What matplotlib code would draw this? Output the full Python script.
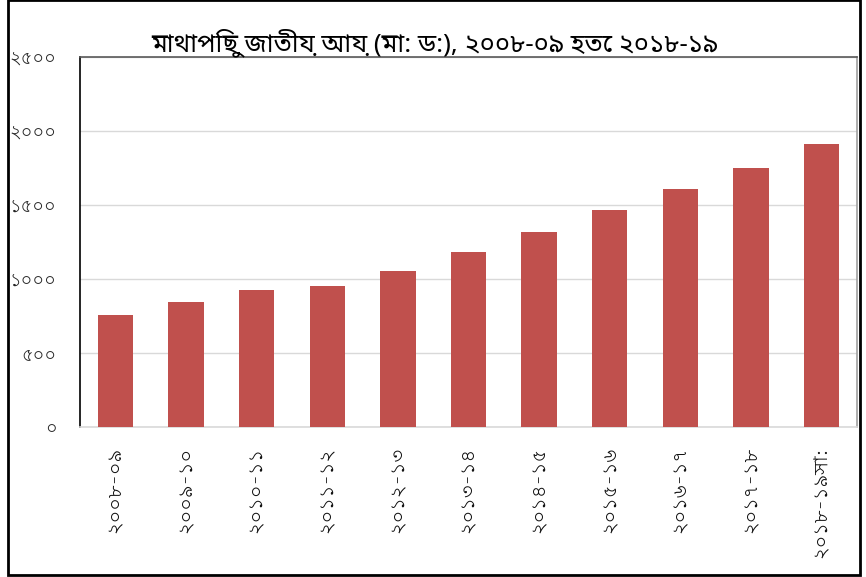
import matplotlib
matplotlib.use('Agg')
import matplotlib.pyplot as plt
from matplotlib.patches import Rectangle

years = ['২০০৮-০৯', '২০০৯-১০', '২০১০-১১', '২০১১-১২', '২০১২-১৩', '২০১৩-১৪',
         '২০১৪-১৫', '২০১৫-১৬', '২০১৬-১৭', '২০১৭-১৮', '২০১৮-১৯সা:']
income = [759, 843, 928, 955, 1054, 1184, 1316, 1465, 1610, 1751, 1909]
yticks = [0, 500, 1000, 1500, 2000, 2500]
ytick_labels = ['০', '৫০০', '১০০০', '১৫০০', '২০০০', '২৫০০']
title = 'মাথাপিছু জাতীয় আয় (মা: ড:), ২০০৮-০৯ হতে ২০১৮-১৯'

fig = plt.figure(figsize=(8.66, 5.77), dpi=100)
ax = fig.add_axes([80/866, 1-427/577, 777/866, 370/577])

ax.bar(range(len(years)), income, width=0.5, color='#C0504D', zorder=3)
ax.set_xlim(-0.5, len(years) - 0.5)
ax.set_ylim(0, 2500)
ax.set_yticks(yticks)
ax.set_yticklabels(ytick_labels, family=['Lohit Bengali', 'DejaVu Sans'],
                   fontsize=13, style='italic', color='#262626')
ax.set_xticks(range(len(years)))
ax.set_xticklabels(years, rotation=90, family=['Lohit Bengali', 'DejaVu Sans'],
                   fontsize=14, va='top', color='#111111')
ax.tick_params(axis='y', length=0, pad=17)
ax.tick_params(axis='x', length=0, pad=14)
ax.grid(axis='y', color='#d9d9d9', lw=1, zorder=0)

ax.spines['left'].set_color('black')
ax.spines['top'].set_color('#595959')
ax.spines['right'].set_color('#a0a0a0')
ax.spines['bottom'].set_color('#d9d9d9')
for s in ax.spines.values():
    s.set_linewidth(1.2)

fig.text(0.502, 0.926, title, ha='center', va='center', fontsize=18.5, fontweight='bold',
         family=['Noto Sans Bengali', 'DejaVu Sans'])

fig.patches.append(Rectangle((8/866, 2/577), 852/866, 575/577, transform=fig.transFigure,
                             fill=False, edgecolor='black', lw=2))

fig.savefig('out.png')
